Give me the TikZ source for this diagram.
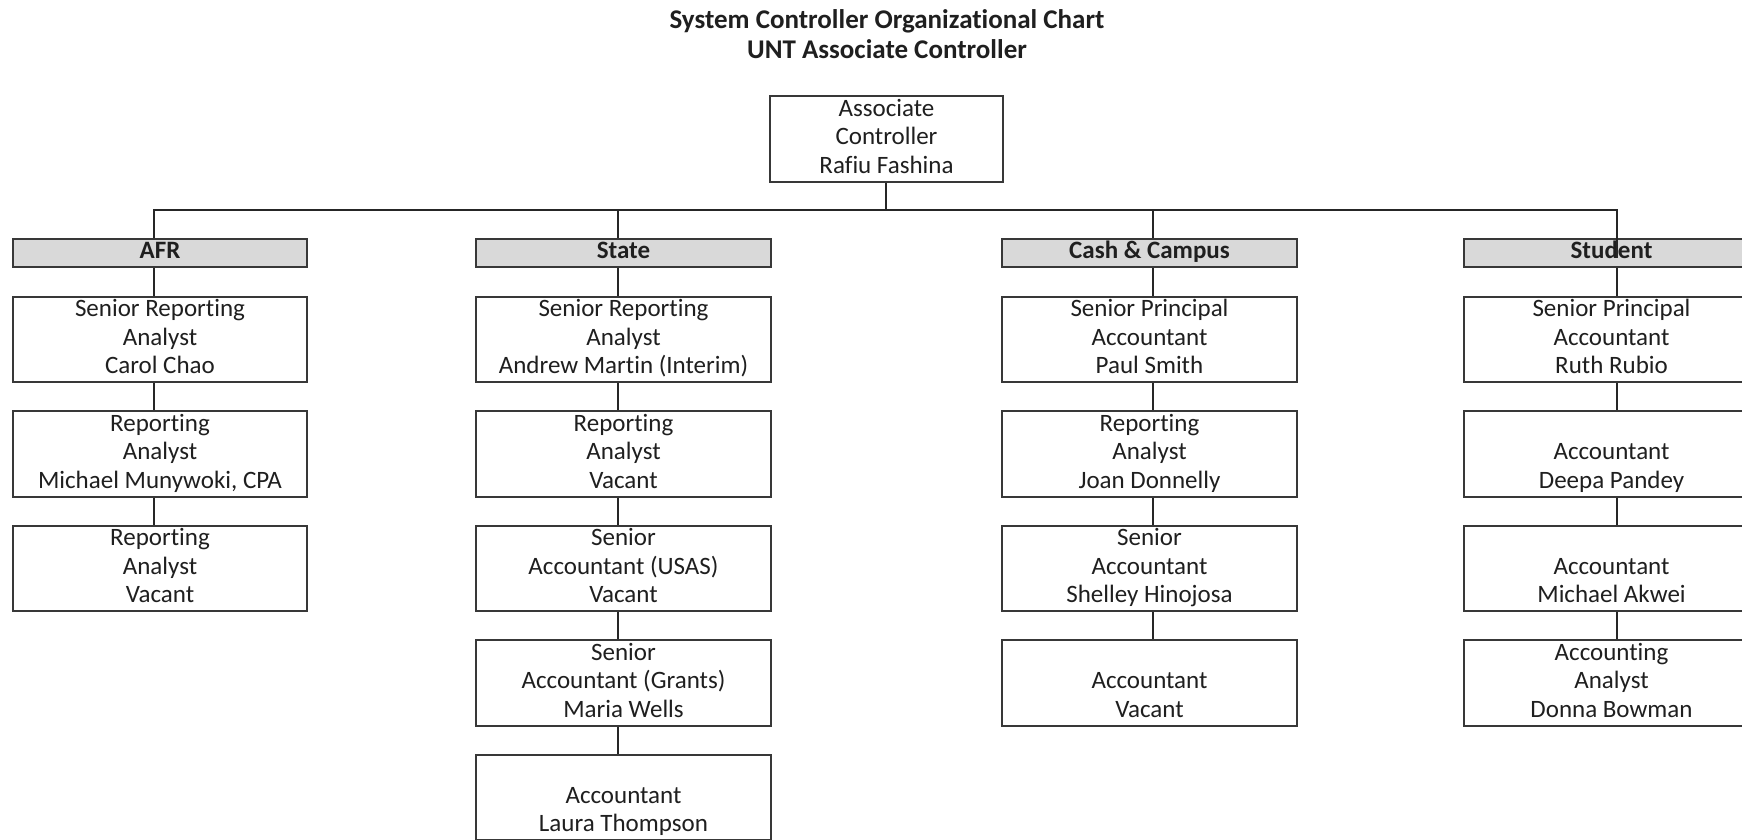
\documentclass[tikz,border=0pt]{standalone}
\usepackage{fontspec}
\setmainfont{Carlito}[Ligatures=NoCommon]
\newcommand\Lns[3]{\strut#1\\\strut#2\\\strut#3}
\tikzset{
  box/.style={draw=black!78, line width=1.8pt, fill=white, minimum width=294.5pt,
    minimum height=85.5pt, inner sep=0pt, align=center,
    font=\fontsize{25}{28.5}\selectfont, text=black!88},
  hdr/.style={box, fill=black!15, minimum height=28pt,
    font=\bfseries\fontsize{25}{28.5}\selectfont},
  conn/.style={draw=black!85, line width=1.7pt},
  ttl/.style={font=\bfseries\fontsize{27}{30}\selectfont, text=black!88,
    anchor=base, inner sep=0pt},
}
\begin{document}
\begin{tikzpicture}[x=1pt,y=-1pt]
\useasboundingbox (0,0) rectangle (1742,839);
\clip (0,0) rectangle (1742,839);
\fill[white] (0,0) rectangle (1742,839);

% titles
\node[ttl] (t1) at (887,28) {System Controller Organizational Chart};
\node[ttl] (t2) at (887,58) {UNT Associate Controller};

% top
\node[box, minimum width=233pt] (top) at (886.5,139) {\Lns{Associate}{Controller}{Rafiu Fashina}};

% headers
\node[hdr] (afr) at (160,253)    {\strut AFR};
\node[hdr] (sta) at (623.5,253)  {\strut State};
\node[hdr] (cas) at (1149.5,253) {\strut Cash \& Campus};
\node[hdr] (stu) at (1611.5,253) {\strut Student};

% AFR
\node[box] (a1) at (160,339.5) {\Lns{Senior Reporting}{Analyst}{Carol Chao}};
\node[box] (a2) at (160,454)   {\Lns{Reporting}{Analyst}{Michael Munywoki, CPA}};
\node[box] (a3) at (160,568.5) {\Lns{Reporting}{Analyst}{Vacant}};

% State
\node[box] (s1) at (623.5,339.5) {\Lns{Senior Reporting}{Analyst}{Andrew Martin (Interim)}};
\node[box] (s2) at (623.5,454)   {\Lns{Reporting}{Analyst}{Vacant}};
\node[box] (s3) at (623.5,568.5) {\Lns{Senior}{Accountant (USAS)}{Vacant}};
\node[box] (s4) at (623.5,683)   {\Lns{Senior}{Accountant (Grants)}{Maria Wells}};
\node[box] (s5) at (623.5,797.5) {\Lns{}{Accountant}{Laura Thompson}};

% Cash & Campus
\node[box] (c1) at (1149.5,339.5) {\Lns{Senior Principal}{Accountant}{Paul Smith}};
\node[box] (c2) at (1149.5,454)   {\Lns{Reporting}{Analyst}{Joan Donnelly}};
\node[box] (c3) at (1149.5,568.5) {\Lns{Senior}{Accountant}{Shelley Hinojosa}};
\node[box] (c4) at (1149.5,683)   {\Lns{}{Accountant}{Vacant}};

% Student
\node[box] (u1) at (1611.5,339.5) {\Lns{Senior Principal}{Accountant}{Ruth Rubio}};
\node[box] (u2) at (1611.5,454)   {\Lns{}{Accountant}{Deepa Pandey}};
\node[box] (u3) at (1611.5,568.5) {\Lns{}{Accountant}{Michael Akwei}};
\node[box] (u4) at (1611.5,683)   {\Lns{Accounting}{Analyst}{Donna Bowman}};

% connector columns
\coordinate (bus) at (0,210);
\coordinate (lt) at (886,0);
\coordinate (la) at (154,0);
\coordinate (ls) at (618,0);
\coordinate (lc) at (1153,0);
\coordinate (lu) at (1617,0);

\draw[conn] (lt |- top.south) -- (lt |- bus);
\draw[conn] (la |- afr.north) -- (la |- bus) -- (lu |- bus) -- ([yshift=-5pt]lu |- stu.center);
\draw[conn] (ls |- bus) -- (ls |- sta.north);
\draw[conn] (lc |- bus) -- (lc |- cas.north);

\draw[conn] (la |- afr.south) -- (la |- a1.north);
\draw[conn] (la |- a1.south) -- (la |- a2.north);
\draw[conn] (la |- a2.south) -- (la |- a3.north);

\draw[conn] (ls |- sta.south) -- (ls |- s1.north);
\draw[conn] (ls |- s1.south) -- (ls |- s2.north);
\draw[conn] (ls |- s2.south) -- (ls |- s3.north);
\draw[conn] (ls |- s3.south) -- (ls |- s4.north);
\draw[conn] (ls |- s4.south) -- (ls |- s5.north);

\draw[conn] (lc |- cas.south) -- (lc |- c1.north);
\draw[conn] (lc |- c1.south) -- (lc |- c2.north);
\draw[conn] (lc |- c2.south) -- (lc |- c3.north);
\draw[conn] (lc |- c3.south) -- (lc |- c4.north);

\draw[conn] (lu |- stu.south) -- (lu |- u1.north);
\draw[conn] (lu |- u1.south) -- (lu |- u2.north);
\draw[conn] (lu |- u2.south) -- (lu |- u3.north);
\draw[conn] (lu |- u3.south) -- (lu |- u4.north);
\end{tikzpicture}
\end{document}
